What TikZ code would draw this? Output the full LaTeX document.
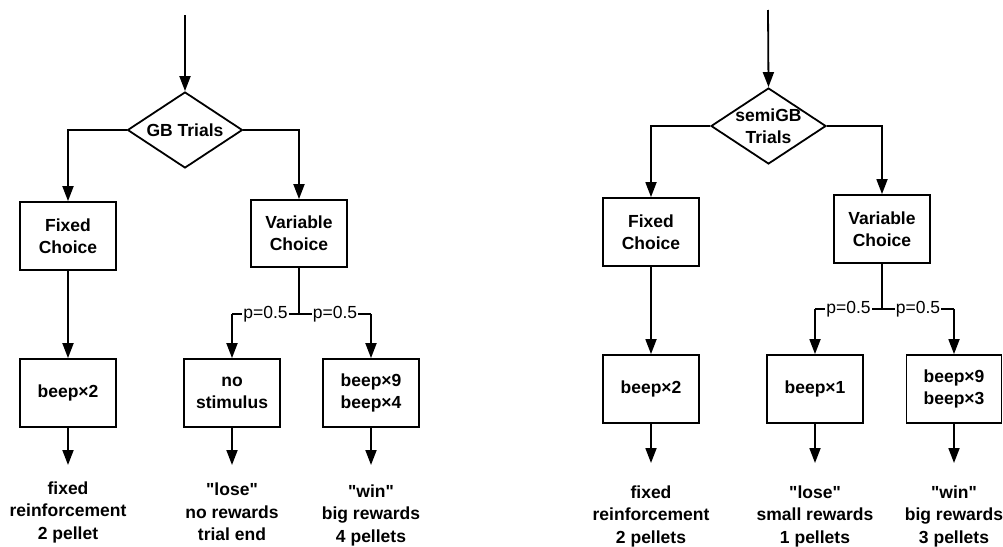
\documentclass[tikz,border=0pt]{standalone}
\usepackage{fontspec}
\setmainfont{Liberation Sans}
\usetikzlibrary{arrows.meta,shapes.geometric}
\begin{document}
\begin{tikzpicture}[x=1pt,y=-1pt,
 box/.style={draw,line width=1.8pt,minimum width=96pt,minimum height=68pt,inner sep=0pt,align=center,font=\bfseries\fontsize{17.5}{22}\selectfont},
 dec/.style={draw,diamond,line width=1.8pt,minimum width=115pt,minimum height=76pt,inner sep=0pt,aspect=1.5},
 dtext/.style={align=center,inner sep=0pt,font=\bfseries\fontsize{17.5}{22}\selectfont},
 outtext/.style={align=center,inner sep=0pt,font=\bfseries\fontsize{17.5}{22.5}\selectfont},
 plabel/.style={fill=white,inner sep=1pt,font=\fontsize{17.5}{20}\selectfont},
 arr/.style={line width=1.8pt,-{Triangle[length=15pt,width=11pt]}},
 plain/.style={line width=1.8pt},
 thinline/.style={line width=1.2pt}]
\useasboundingbox (0,0) rectangle (1003,546);

% ---------- left diagram ----------
\coordinate (ltop) at (185,15);
\node[dec] (ld) at (185,130) {};
\node[dtext] (ldt) at (185,130) {GB Trials};
\node[box] (lfix) at (68,236) {Fixed\\Choice};
\node[box,minimum height=67pt] (lvar) at (299,233.5) {Variable\\Choice};
\node[box] (lbeep) at (68,393) {beep×2};
\node[box] (lno) at (232,393) {no\\stimulus};
\node[box] (lwin) at (371,393) {beep×9\\beep×4};

\draw[arr] (ltop) -- (ld.north);
\draw[arr] (ld.west) -| (lfix.north);
\draw[arr] (ld.east) -| (lvar.north);
\draw[arr] (lfix.south) -- (lbeep.north);

\path (lvar.south) ++(0,46) coordinate (ls);
\coordinate (lc1) at (lno.north |- ls);
\coordinate (lc2) at (lwin.north |- ls);
\draw[plain] (lvar.south) -- (ls);
\draw[thinline] (ls) -- node[plabel] (lp1) {p=0.5} (lc1);
\draw[thinline] (ls) -- node[plabel] (lp2) {p=0.5} (lc2);
\draw[arr] (lc1) -- (lno.north);
\draw[arr] (lc2) -- (lwin.north);

\coordinate (le1) at (68,465);
\coordinate (le2) at (232,465);
\coordinate (le3) at (371,465);
\draw[arr] (lbeep.south) -- (le1);
\draw[arr] (lno.south) -- (le2);
\draw[arr] (lwin.south) -- (le3);

\node[outtext] (lo1) at (68,512) {fixed\\reinforcement\\2 pellet};
\node[outtext] (lo2) at (232,512) {\textquotedbl lose\textquotedbl\\no rewards\\trial end};
\node[outtext] (lo3) at (371,515) {\textquotedbl win\textquotedbl\\big rewards\\4 pellets};

% ---------- right diagram ----------
\coordinate (rtop) at (768,10);
\node[dec] (rd) at (768.5,126) {};
\node[dtext] (rdt) at (768.5,126) {semiGB\\Trials};
\node[box] (rfix) at (651,232) {Fixed\\Choice};
\node[box] (rvar) at (882,229) {Variable\\Choice};
\node[box] (rbeep) at (651,389) {beep×2};
\node[box] (rone) at (815,389) {beep×1};
\node[box,minimum width=95pt] (rwin) at (954,389) {beep×9\\beep×3};

\draw[arr] (rtop) -- (rd.north);
\draw[arr] (rd.west) -| (rfix.north);
\draw[arr] (rd.east) -| (rvar.north);
\draw[arr] (rfix.south) -- (rbeep.north);

\path (rvar.south) ++(0,45) coordinate (rs);
\coordinate (rc1) at (rone.north |- rs);
\coordinate (rc2) at (rwin.north |- rs);
\draw[plain] (rvar.south) -- (rs);
\draw[thinline] (rs) -- node[plabel] (rp1) {p=0.5} (rc1);
\draw[thinline] (rs) -- node[plabel] (rp2) {p=0.5} (rc2);
\draw[arr] (rc1) -- (rone.north);
\draw[arr] (rc2) -- (rwin.north);

\coordinate (re1) at (651,463);
\coordinate (re2) at (815,463);
\coordinate (re3) at (954,463);
\draw[arr] (rbeep.south) -- (re1);
\draw[arr] (rone.south) -- (re2);
\draw[arr] (rwin.south) -- (re3);

\node[outtext] (ro1) at (651,516) {fixed\\reinforcement\\2 pellets};
\node[outtext] (ro2) at (815,516) {\textquotedbl lose\textquotedbl\\small rewards\\1 pellets};
\node[outtext] (ro3) at (954,516) {\textquotedbl win\textquotedbl\\big rewards\\3 pellets};
\end{tikzpicture}
\end{document}
